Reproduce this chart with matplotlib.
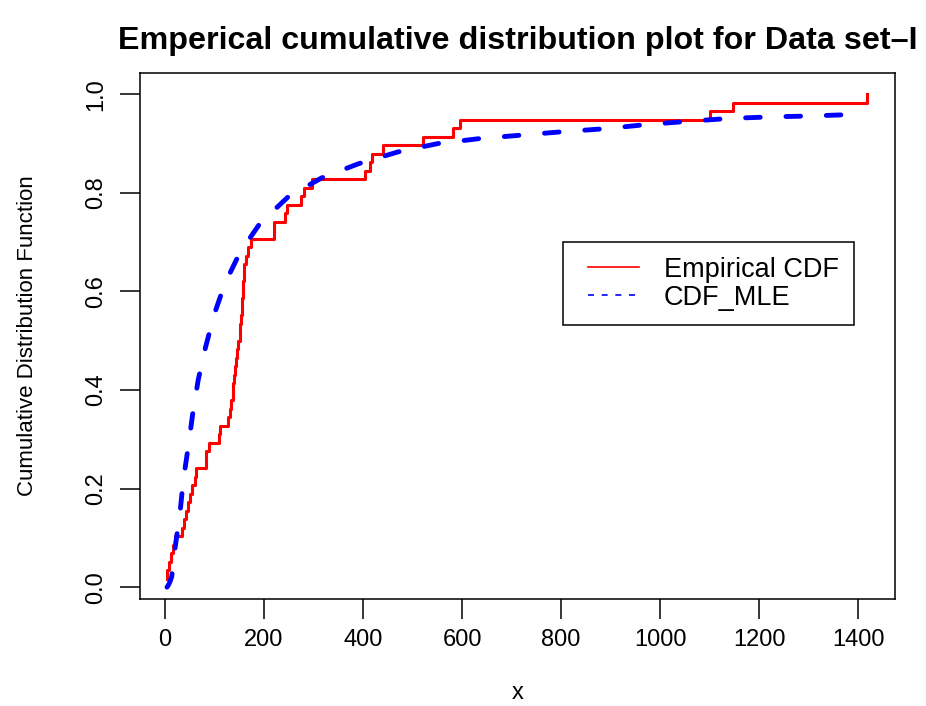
import numpy as np
import matplotlib
matplotlib.use("Agg")
import matplotlib.pyplot as plt
from matplotlib.lines import Line2D
from matplotlib.legend_handler import HandlerLine2D

# ---------------------------------------------------------------------------
# Data
# ---------------------------------------------------------------------------
# sorted sample (n = 58), the empirical CDF jumps by 1/58 at each value
sample_x = [4, 5, 9, 12, 17, 20, 34, 38, 42, 47,
            51, 54, 61, 62, 82, 83, 89, 110, 111, 128,
            132, 133, 137, 138, 139, 141, 143, 145, 148, 151,
            152, 154, 155, 156, 157, 158, 159, 160, 163, 168,
            174, 220, 221, 242, 246, 275, 280, 296, 404, 414,
            419, 440, 522, 582, 596, 1101, 1147, 1419]

# fitted CDF (MLE)
mle_x = [4, 6.7, 10, 13.5, 20, 30, 37, 47, 56, 67, 82, 99, 121, 152, 192,
         249, 316, 391, 471, 552, 636, 720, 805, 889, 973, 1057, 1141,
         1226, 1310, 1394, 1412]
mle_y = [0.0, 0.004, 0.011, 0.021, 0.077, 0.148, 0.217, 0.285, 0.352, 0.420,
         0.487, 0.552, 0.616, 0.680, 0.738, 0.792, 0.830, 0.859, 0.883,
         0.900, 0.910, 0.917, 0.924, 0.930, 0.9385, 0.945, 0.951, 0.954,
         0.956, 0.959, 0.960]

x_ticks = [0, 200, 400, 600, 800, 1000, 1200, 1400]
y_ticks = [0.0, 0.2, 0.4, 0.6, 0.8, 1.0]
y_tick_labels = ["0.0", "0.2", "0.4", "0.6", "0.8", "1.0"]

ecdf_y = np.arange(1, len(sample_x) + 1) / len(sample_x)

# ---------------------------------------------------------------------------
# Figure
# ---------------------------------------------------------------------------
plt.rcParams["font.family"] = ["Liberation Sans", "DejaVu Sans"]

fig = plt.figure(figsize=(9.26, 7.06), dpi=100)
ax = fig.add_axes([140 / 926, 1 - 599 / 706, 755 / 926, 526 / 706])

ax.plot(sample_x, ecdf_y, drawstyle="steps-post", color="#ff0000", lw=2.2)
ax.plot(mle_x, mle_y, color="#0000ff", lw=3.5, dashes=(3.0, 5.3),
        dash_capstyle="round", solid_capstyle="round")

ax.set_xlim(-50.5, 1474.7)
ax.set_ylim(-0.024, 1.043)

ax.set_xticks(x_ticks)
ax.set_xticklabels([str(t) for t in x_ticks])
ax.set_yticks(y_ticks)
ax.set_yticklabels(y_tick_labels, rotation=90, va="center")
ax.tick_params(axis="both", direction="out", length=14.4, width=1.1,
               labelsize=17)
ax.tick_params(axis="x", pad=7)
ax.tick_params(axis="y", pad=9)

for sp in ax.spines.values():
    sp.set_linewidth(1.1)

ax.set_xlabel("x", fontsize=17)
ax.xaxis.set_label_coords(0.5, -0.158)
ax.set_ylabel("Cumulative Distribution Function", fontsize=16)
ax.yaxis.set_label_coords(-0.1345, 0.5)

ax.set_title("Emperical cumulative distribution plot for Data set\u2013I",
             fontsize=23.2, fontweight="bold", pad=17)

# legend: the sample lines sit a little to the right, as in R's legend()
handles = [Line2D([], [], color="#ff0000", lw=1.2),
           Line2D([], [], color="#0000ff", lw=1.2, dashes=(3.6, 4.6))]
shifted = HandlerLine2D(xpad=0.39)
leg = ax.legend(handles, ["Empirical CDF", "CDF_MLE"], loc="upper left",
                bbox_to_anchor=(0.560, 0.6787), borderaxespad=0,
                fontsize=19.5, frameon=True, fancybox=False, framealpha=1,
                edgecolor="black", handlelength=2.27, handletextpad=0.92,
                borderpad=0.55, labelspacing=0.06,
                handler_map={Line2D: shifted})
leg.get_frame().set_linewidth(1.1)

fig.savefig("out.png", dpi=100)
